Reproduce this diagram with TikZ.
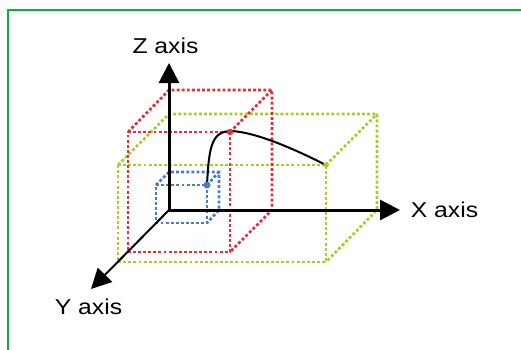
\documentclass[tikz,border=0pt]{standalone}
\usepackage{fontspec}
\setmainfont{Liberation Sans}
\newfontfamily\lblfont[FakeStretch=1.15]{Liberation Sans}
\usetikzlibrary{arrows.meta}
\definecolor{bred}{HTML}{E0303A}
\definecolor{bgreen}{HTML}{A8CC2A}
\definecolor{bblue}{HTML}{4A7CC4}
\definecolor{frame}{HTML}{0FAE3C}
\tikzset{
  axis/.style={line width=3pt,-{Triangle[length=20pt,width=20pt]}},
  yaxis/.style={line width=2pt,-{Triangle[length=20pt,width=20pt]}},
  boxline/.style={line width=2.7pt,dash pattern=on 2.9pt off 2.2pt},
  lbl/.style={font=\lblfont\fontsize{21.5}{24}\selectfont,inner sep=0pt,anchor=base},
  curve/.style={line width=2pt,black},
}
\begin{document}
\begin{tikzpicture}[x=1pt,y=-1pt]
\useasboundingbox (0,0) rectangle (521,349);
\fill[white] (0,0) rectangle (521,349);
\draw[frame,line width=2.7pt] (8,360) -- (8,10) -- (530,10);
% axis coordinates
\coordinate (O) at (169,210);
\coordinate (Zt) at (169,63);
\coordinate (Xt) at (400,210);
\coordinate (Yt) at (91,289);
% green box
\coordinate (g1) at (118,165); \coordinate (g2) at (326,165);
\coordinate (g3) at (326,262); \coordinate (g4) at (118,262);
\coordinate (g5) at (169,114); \coordinate (g6) at (377,114);
\coordinate (g7) at (377,210);
% red box
\coordinate (r1) at (128,132); \coordinate (r2) at (230,132);
\coordinate (r3) at (230,252); \coordinate (r4) at (128,252);
\coordinate (r5) at (169,90); \coordinate (r6) at (272,90);
\coordinate (r7) at (272,210);
% blue box
\coordinate (b1) at (156,185); \coordinate (b2) at (207,185);
\coordinate (b3) at (207,223); \coordinate (b4) at (156,223);
\coordinate (b5) at (169,172); \coordinate (b6) at (219,172);
\coordinate (b7) at (219,210);
\draw[boxline,bgreen] (g1) -- (g2) -- (g3) -- (g4) -- cycle;
\draw[boxline,bgreen] (g1) -- (g5) -- (g6) -- (g7) -- (g3);
\draw[boxline,bgreen] (g2) -- (g6);
\draw[boxline,bred] (r1) -- (r2) -- (r3) -- (r4) -- cycle;
\draw[boxline,bred] (r1) -- (r5) -- (r6) -- (r7) -- (r3);
\draw[boxline,bred] (r2) -- (r6);
\draw[boxline,bblue] (b1) -- (b2) -- (b3) -- (b4) -- cycle;
\draw[boxline,bblue] (b1) -- (b5) -- (b6) -- (b7) -- (b3);
\draw[boxline,bblue] (b2) -- (b6);
% axes
\draw[axis] (O) -- (Zt);
\draw[axis] (O) -- (Xt);
\draw[yaxis] (O) -- (Yt);
% curve
\coordinate (pk) at (232,131);
\draw[curve] (b2) .. controls (209,145) and (212,131) .. (pk)
  .. controls (260,133) and (300,152) .. (g2);
\fill[bblue] (b2) circle (3.5);
\fill[bred] (r2) circle (3.2);
\fill[bgreen] (g2) circle (2.8);
% labels
\node[lbl] (zl) at (165.5,53) {Z axis};
\node[lbl] (xl) at (444.5,217) {X axis};
\node[lbl] (yl) at (88.5,314) {Y axis};
\end{tikzpicture}
\end{document}
